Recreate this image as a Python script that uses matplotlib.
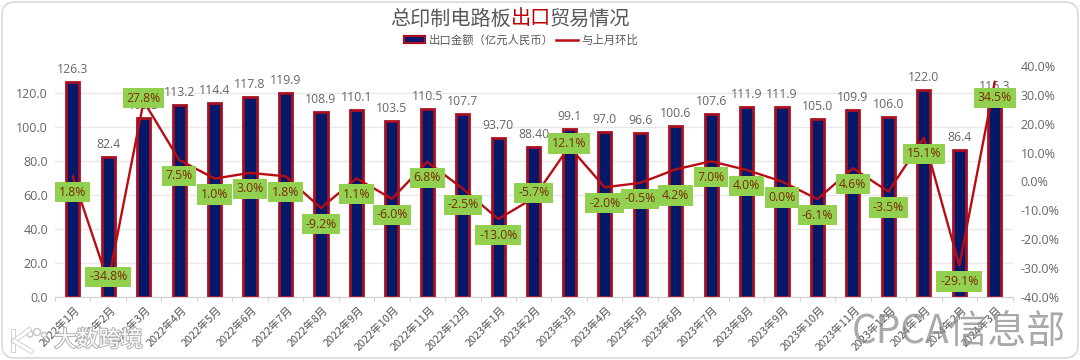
import matplotlib
matplotlib.use("Agg")
import matplotlib.pyplot as plt
import matplotlib.patheffects as pe
from matplotlib.patches import FancyBboxPatch, Patch, Circle
from matplotlib.lines import Line2D

plt.rcParams['font.family'] = ['Noto Sans CJK SC', 'DejaVu Sans']
num_font = ['Open Sans', 'Noto Sans CJK SC']

months = ["2022年1月", "2022年2月", "2022年3月", "2022年4月", "2022年5月", "2022年6月", "2022年7月",
          "2022年8月", "2022年9月", "2022年10月", "2022年11月", "2022年12月", "2023年1月", "2023年2月",
          "2023年3月", "2023年4月", "2023年5月", "2023年6月", "2023年7月", "2023年8月", "2023年9月",
          "2023年10月", "2023年11月", "2023年12月", "2024年1月", "2024年2月", "2024年3月"]
export_value = [126.3, 82.4, 105.3, 113.2, 114.4, 117.8, 119.9, 108.9, 110.1, 103.5, 110.5, 107.7, 93.7, 88.4,
                99.1, 97.0, 96.6, 100.6, 107.6, 111.9, 111.9, 105.0, 109.9, 106.0, 122.0, 86.4, 116.3]
value_labels = ["126.3", "82.4", "105.3", "113.2", "114.4", "117.8", "119.9", "108.9", "110.1", "103.5", "110.5",
                "107.7", "93.70", "88.40", "99.1", "97.0", "96.6", "100.6", "107.6", "111.9", "111.9", "105.0",
                "109.9", "106.0", "122.0", "86.4", "116.3"]
mom_change = [1.8, -34.8, 27.8, 7.5, 1.0, 3.0, 1.8, -9.2, 1.1, -6.0, 6.8, -2.5, -13.0, -5.7, 12.1, -2.0, -0.5,
              4.2, 7.0, 4.0, 0.0, -6.1, 4.6, -3.5, 15.1, -29.1, 34.5]

W, H = 1080, 360
fig = plt.figure(figsize=(W / 100, H / 100), dpi=100)
fig.patch.set_facecolor("white")
fig.add_artist(FancyBboxPatch((2 / W, 2 / H), 1 - 4 / W, 1 - 4 / H, boxstyle="round,pad=0,rounding_size=0.012",
                              transform=fig.transFigure, fc="white", ec="#d9d9d9", lw=1.2, mutation_aspect=3,
                              zorder=-5))

ax = fig.add_axes([55 / W, 1 - 297 / H, (1012.5 - 55) / W, (297 - 66) / H])
ax.patch.set_visible(False)
x = list(range(len(months)))

ax.bar(x, export_value, width=0.37, color="#04196a", edgecolor="#a80f20", linewidth=2, zorder=2)
ax.set_xlim(-0.5, len(months) - 0.5)
ax.set_ylim(0, 135.9)
ax.set_yticks(range(0, 121, 20))
ax.set_yticklabels([f"{v:.1f}" for v in range(0, 121, 20)], fontsize=9, color="#666666", family=num_font)
ax.grid(axis="y", color="#e8e8e8", linewidth=1)
ax.set_axisbelow(True)
ax.set_xticks([i - 0.5 for i in x] + [len(months) - 0.5])
ax.set_xticklabels([])
ax.tick_params(axis="x", length=3, color="#d0d0d0")
ax.tick_params(axis="y", length=0, pad=5)
for name in ["top", "left", "right"]:
    ax.spines[name].set_visible(False)
ax.spines["bottom"].set_color("#d0d0d0")

for i, m in enumerate(months):
    ax.annotate(m, (i, 0), xytext=(2, -8), textcoords="offset pixels", rotation=45, ha="right", va="top",
                rotation_mode="anchor", fontsize=7.8, color="#555555")
for i, v in enumerate(export_value):
    ax.annotate(value_labels[i], (i, v), xytext=(0, 6), textcoords="offset pixels", ha="center", va="bottom",
                fontsize=8.8, color="#666666", zorder=3, family=num_font)

ax2 = ax.twinx()
ax2.plot(x, mom_change, color="#b80d14", linewidth=1.7, zorder=4)
ax2.set_ylim(-40, 40)
ax2.set_yticks(range(-40, 41, 10))
ax2.set_yticklabels([f"{v:.1f}%" for v in range(-40, 41, 10)], fontsize=9, color="#666666", family=num_font)
ax2.tick_params(axis="y", length=0, pad=6)
for name in ["top", "left", "right", "bottom"]:
    ax2.spines[name].set_visible(False)

# labels sit 16px under the point, except a few the original moved by hand
label_shift = {1: 5, 2: 3, 13: 5, 14: 3, 17: -26}
for i, v in enumerate(mom_change):
    ax2.annotate(f"{v:.1f}%", (i, v), xytext=(0, label_shift.get(i, -16)), textcoords="offset pixels",
                 ha="center", va="center", fontsize=8.8, color="#7a2a0a", zorder=6, family=num_font,
                 bbox=dict(boxstyle="square,pad=0.3", fc="#92d050", ec="none"))

fig.text(511 / W, 1 - 19 / H, "总印制电路板", fontsize=14.5, color="#595959", ha="right", va="center")
fig.text(511 / W, 1 - 19 / H, "出口", fontsize=14.5, color="#c00000", ha="left", va="center")
fig.text(550 / W, 1 - 19 / H, "贸易情况", fontsize=14.5, color="#595959", ha="left", va="center")

handles = [Patch(fc="#04196a", ec="#a80f20", lw=1.6), Line2D([], [], color="#b80d14", lw=1.8)]
fig.legend(handles, ["出口金额（亿元人民币）", "与上月环比"], loc="center", bbox_to_anchor=(521 / W, 1 - 40 / H),
           ncol=2, frameon=False, fontsize=8.2, labelcolor="#595959", columnspacing=0.2, handlelength=1.9,
           handletextpad=0.3, handleheight=0.5)

# watermarks
outline = [pe.withStroke(linewidth=1.5, foreground="#b5b5b5")]
fig.text(54 / W, 1 - 340 / H, "大数跨境", fontsize=16, color="white", ha="left", va="center", path_effects=outline)
fig.text(852 / W, 1 - 332 / H, "CPCA信息部", fontsize=28, color="#8c8c8c", alpha=0.75, ha="left", va="center")

# little logo in front of the left watermark
logo_lines = [([13, 13], [331, 350]), ([29, 14], [330, 341]), ([14, 31], [341, 351])]
for xs, ys in logo_lines:
    fig.add_artist(Line2D([p / W for p in xs], [1 - p / H for p in ys], color="white", lw=2.5,
                          path_effects=[pe.withStroke(linewidth=3.5, foreground="#c4c4c4")]))
for cx, cy, r in [(30, 334, 3), (37, 332, 3.5), (44, 335, 2.5)]:
    fig.add_artist(Circle((cx, H - cy), r, transform=None, fc="white", ec="#c4c4c4", lw=1))

fig.savefig("out.png", dpi=100)
